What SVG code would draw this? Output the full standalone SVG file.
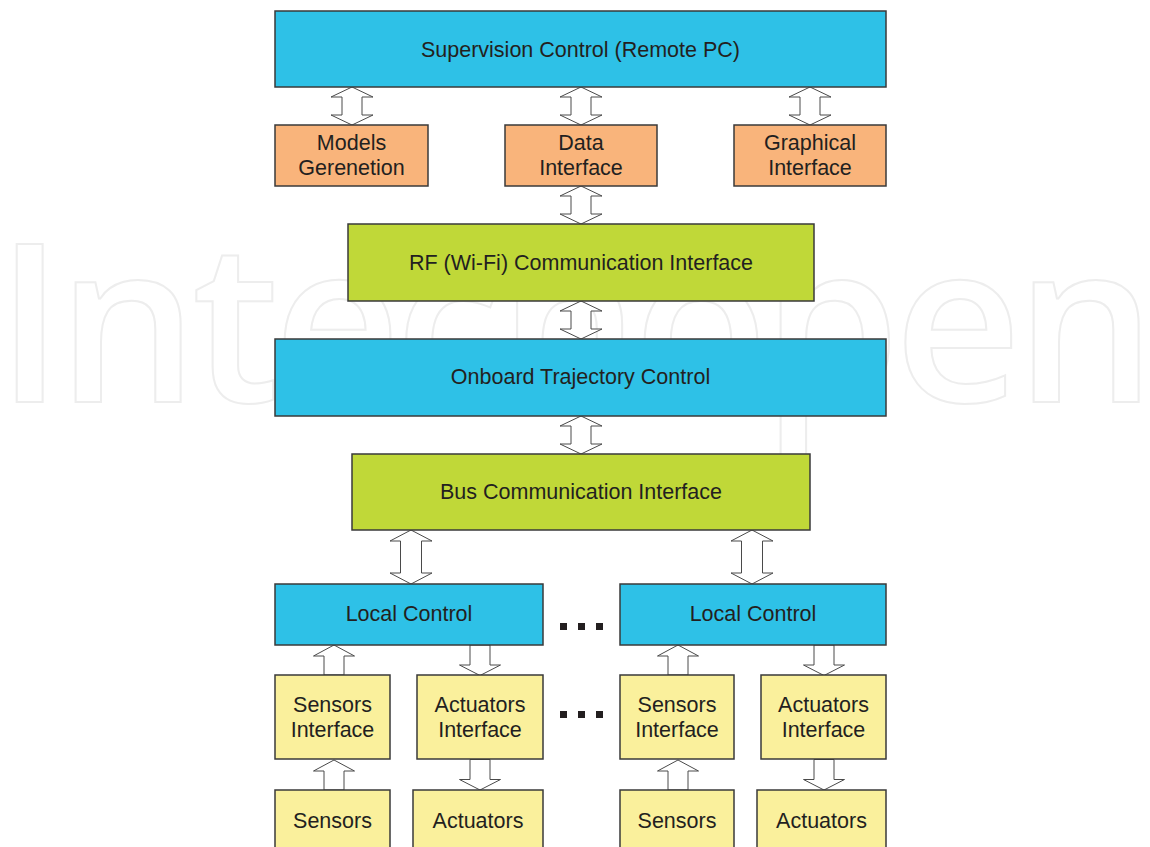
<svg xmlns="http://www.w3.org/2000/svg" xmlns:xlink="http://www.w3.org/1999/xlink" width="1150" height="847" viewBox="0 0 1150 847">
<style>
.box{stroke:#3a3a3a;stroke-width:1.5}
.blue{fill:#2ec1e7}
.orange{fill:#f9b47b}
.green{fill:#c0d838}
.yellow{fill:#faf09c}
.t{font-family:"Liberation Sans",Arial,sans-serif;font-size:21.5px;fill:#231f20;text-anchor:middle}
.arr{fill:#ffffff;stroke:#4a4a4a;stroke-width:1}
.dot{fill:#231f20}
.wm{font-family:"Open Sans","Noto Sans",sans-serif;font-size:221px;font-weight:600;fill:none;stroke:#ededed;stroke-width:2}
</style>
<defs>
<polygon id="dbl38" points="0,0 21,10 10,10 10,28 21,28 0,38 -21,28 -10,28 -10,10 -21,10"/>
<polygon id="dbl54" points="0,0 21,11 10.5,11 10.5,43 21,43 0,54 -21,43 -10.5,43 -10.5,11 -21,11"/>
<polygon id="up30" points="0,0 20.5,11 10,11 10,30 -10,30 -10,11 -20.5,11"/>
<polygon id="down30" points="-10,0 10,0 10,20 20.5,20 0,30.5 -20.5,20 -10,20"/>
</defs>
<rect width="1150" height="847" fill="#ffffff"/>
<text class="wm" x="-4" y="402" textLength="1160" lengthAdjust="spacing">Intechopen</text>

<g id="connectors">
<use href="#dbl38" x="352" y="87" class="arr"/>
<use href="#dbl38" x="581" y="87" class="arr"/>
<use href="#dbl38" x="810" y="87" class="arr"/>
<use href="#dbl38" x="581" y="186" class="arr"/>
<use href="#dbl38" x="581" y="301" class="arr"/>
<use href="#dbl38" x="581" y="416" class="arr"/>
<use href="#dbl54" x="411" y="530" class="arr"/>
<use href="#dbl54" x="752" y="530" class="arr"/>
<use href="#up30" x="334" y="645" class="arr"/>
<use href="#down30" x="480" y="645" class="arr"/>
<use href="#up30" x="678" y="645" class="arr"/>
<use href="#down30" x="824" y="645" class="arr"/>
<use href="#up30" x="334" y="760" class="arr"/>
<use href="#down30" x="480" y="759.5" class="arr"/>
<use href="#up30" x="678" y="760" class="arr"/>
<use href="#down30" x="824" y="759.5" class="arr"/>
</g>

<g id="supervision"><rect class="box blue" x="275" y="11" width="611" height="76"/><text class="t" x="580.5" y="57">Supervision Control (Remote PC)</text></g>
<g id="models"><rect class="box orange" x="275" y="125" width="153" height="61"/><text class="t" x="351.5" y="150">Models</text><text class="t" x="351.5" y="175">Gerenetion</text></g>
<g id="data"><rect class="box orange" x="505" y="125" width="152" height="61"/><text class="t" x="581" y="150">Data</text><text class="t" x="581" y="175">Interface</text></g>
<g id="graphical"><rect class="box orange" x="734" y="125" width="152" height="61"/><text class="t" x="810" y="150">Graphical</text><text class="t" x="810" y="175">Interface</text></g>
<g id="rf"><rect class="box green" x="348" y="224" width="466" height="77"/><text class="t" x="581" y="270">RF (Wi-Fi) Communication Interface</text></g>
<g id="onboard"><rect class="box blue" x="275" y="339" width="611" height="77"/><text class="t" x="580.5" y="384">Onboard Trajectory Control</text></g>
<g id="bus"><rect class="box green" x="352" y="454" width="458" height="76"/><text class="t" x="581" y="499">Bus Communication Interface</text></g>
<g id="local1"><rect class="box blue" x="275" y="584" width="268" height="61"/><text class="t" x="409" y="621">Local Control</text></g>
<g id="local2"><rect class="box blue" x="620" y="584" width="266" height="61"/><text class="t" x="753" y="621">Local Control</text></g>
<g id="sensif1"><rect class="box yellow" x="275" y="675" width="115" height="84"/><text class="t" x="332.5" y="711.5">Sensors</text><text class="t" x="332.5" y="736.5">Interface</text></g>
<g id="actif1"><rect class="box yellow" x="417" y="675" width="126" height="84"/><text class="t" x="480" y="711.5">Actuators</text><text class="t" x="480" y="736.5">Interface</text></g>
<g id="sensif2"><rect class="box yellow" x="620" y="675" width="114" height="84"/><text class="t" x="677" y="711.5">Sensors</text><text class="t" x="677" y="736.5">Interface</text></g>
<g id="actif2"><rect class="box yellow" x="761" y="675" width="125" height="84"/><text class="t" x="823.5" y="711.5">Actuators</text><text class="t" x="823.5" y="736.5">Interface</text></g>
<g id="sensors1"><rect class="box yellow" x="275" y="790" width="115" height="70"/><text class="t" x="332.5" y="828">Sensors</text></g>
<g id="actuators1"><rect class="box yellow" x="413" y="790" width="130" height="70"/><text class="t" x="478" y="828">Actuators</text></g>
<g id="sensors2"><rect class="box yellow" x="620" y="790" width="114" height="70"/><text class="t" x="677" y="828">Sensors</text></g>
<g id="actuators2"><rect class="box yellow" x="757" y="790" width="129" height="70"/><text class="t" x="821.5" y="828">Actuators</text></g>
<g id="ellipsis1"><rect class="dot" x="560" y="623" width="7" height="7"/><rect class="dot" x="578" y="623" width="7" height="7"/><rect class="dot" x="596" y="623" width="7" height="7"/></g>
<g id="ellipsis2"><rect class="dot" x="560" y="711" width="7" height="7"/><rect class="dot" x="578" y="711" width="7" height="7"/><rect class="dot" x="596" y="711" width="7" height="7"/></g>
</svg>
